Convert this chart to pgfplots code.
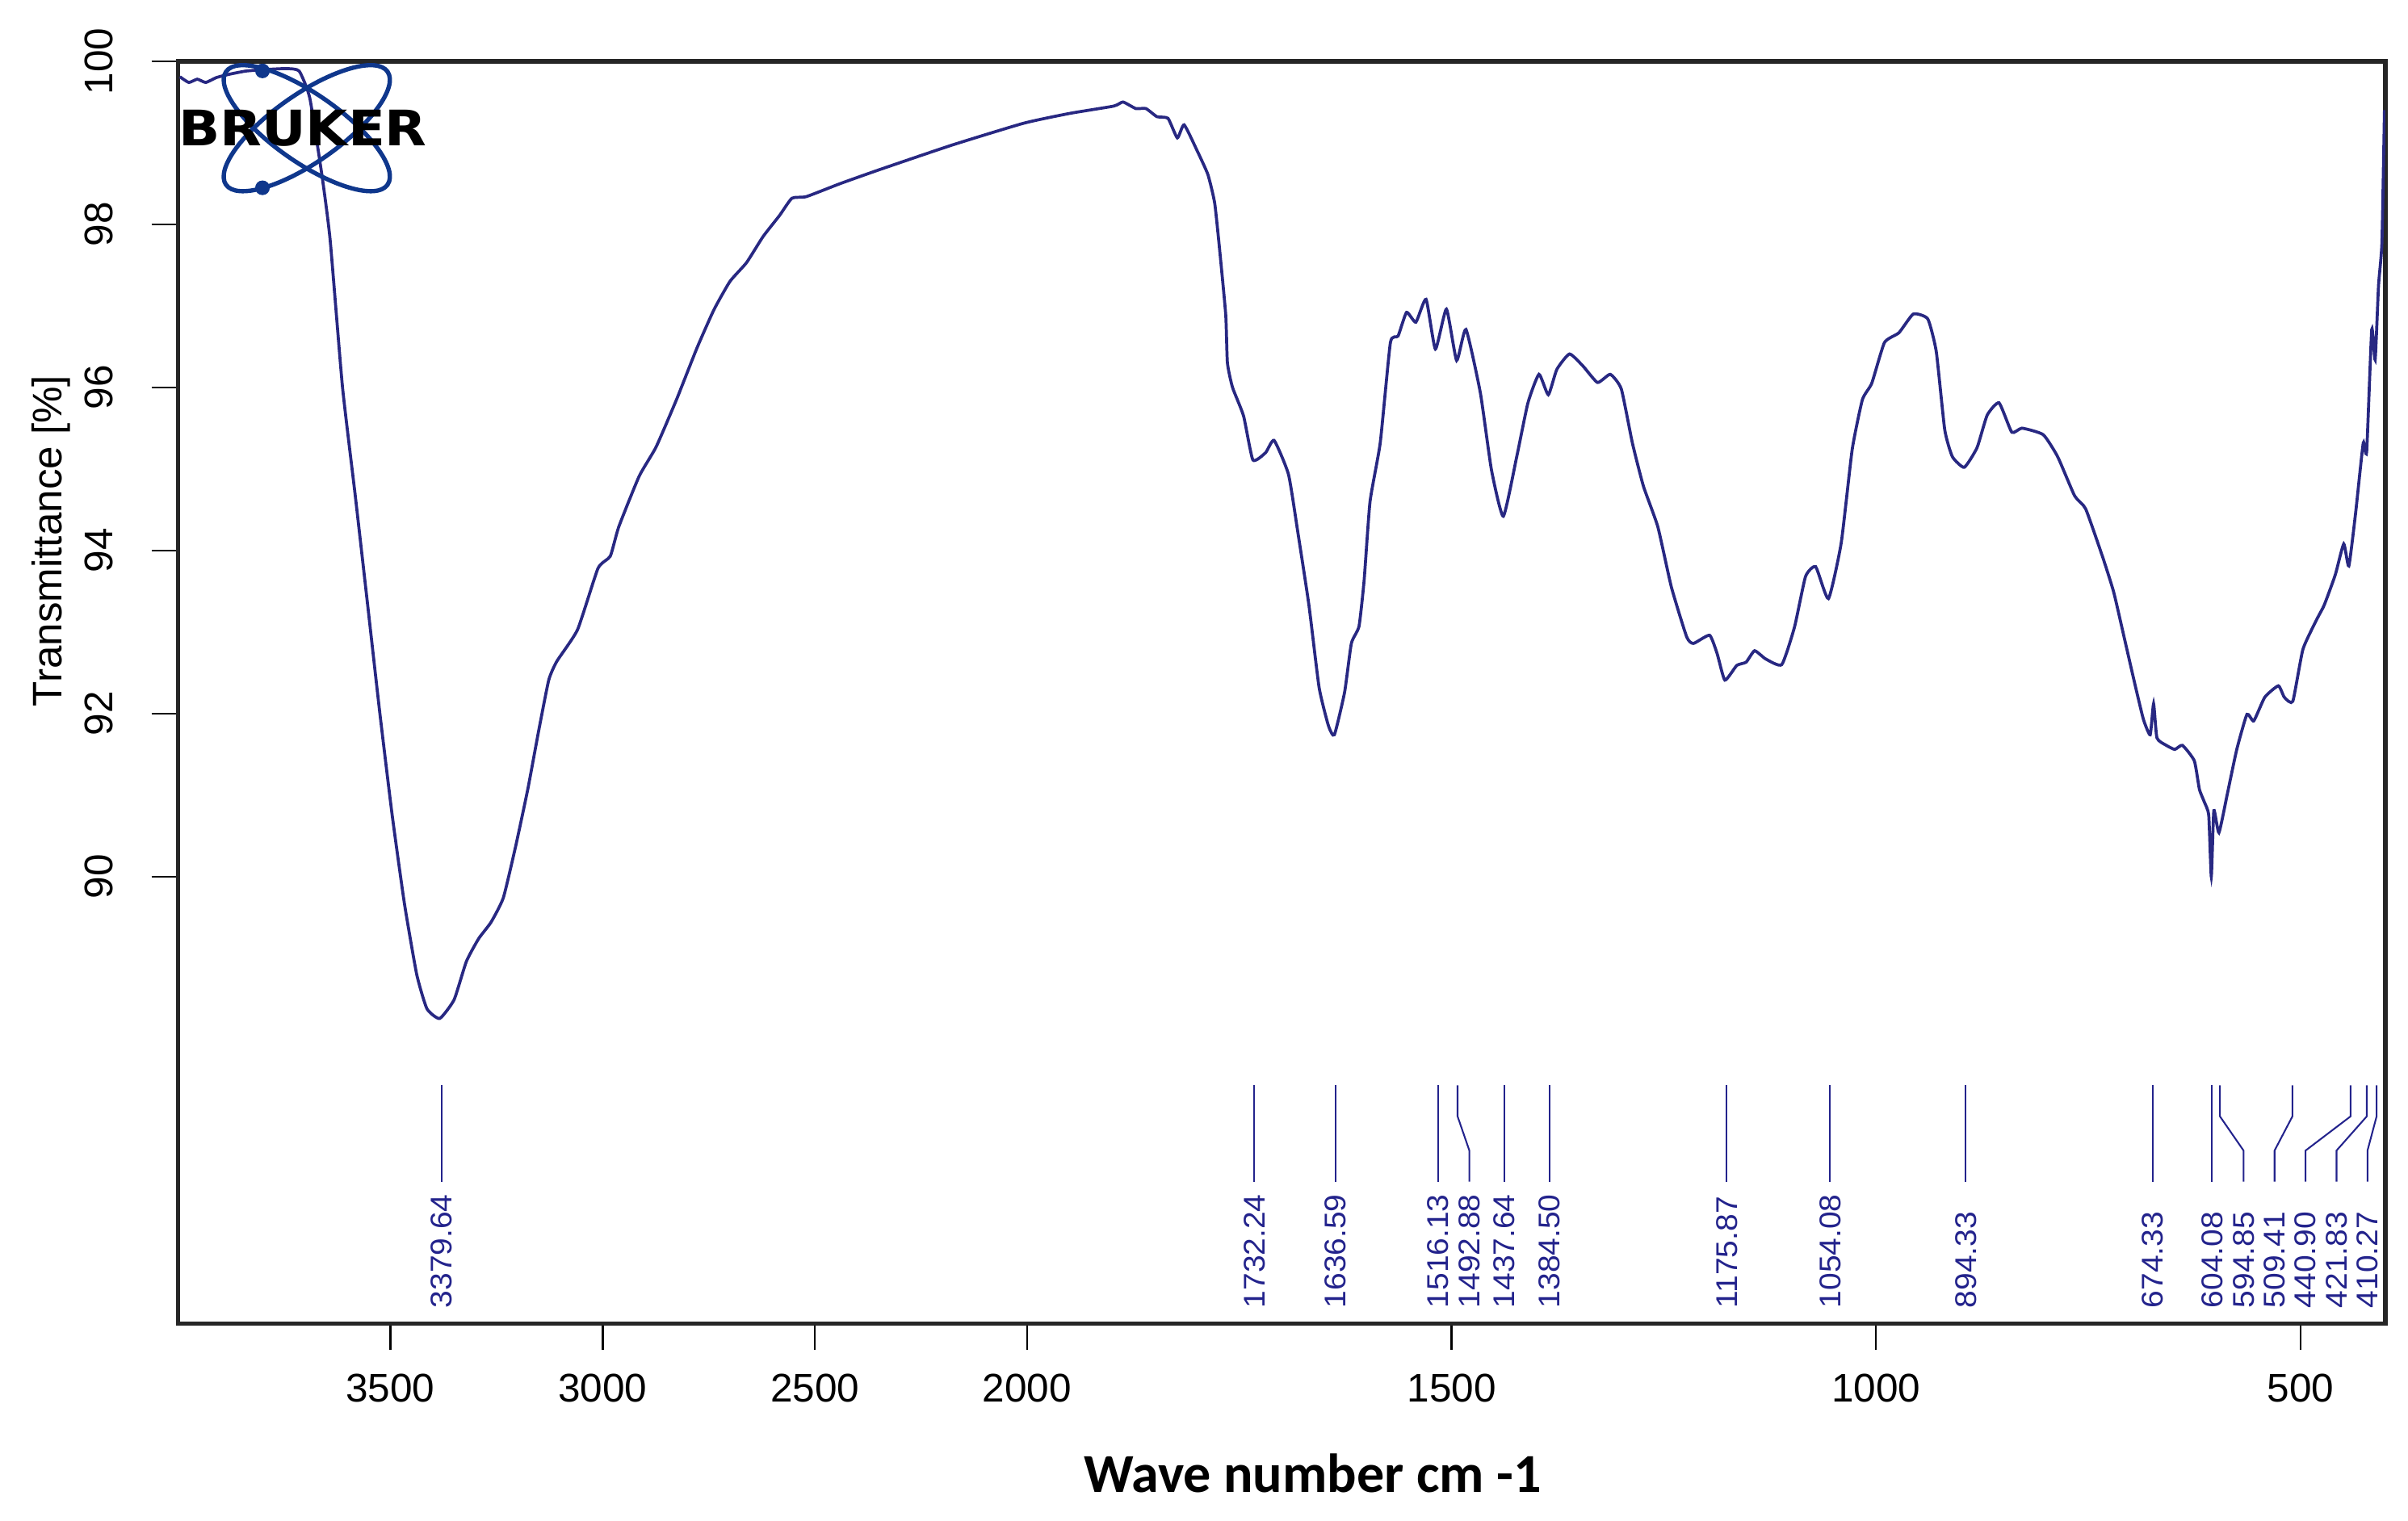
\documentclass[border=0pt]{standalone}
\usepackage{fontspec}
\setmainfont{Liberation Sans}
\newfontfamily\calibri{Carlito}
\newfontfamily\logofont{DejaVu Sans}
\usepackage{pgfplots}
\pgfplotsset{compat=1.18}

\definecolor{spec}{RGB}{40,40,130}
\definecolor{peak}{RGB}{35,35,140}
\definecolor{logoblue}{RGB}{15,55,140}

% IR spectrum, wavenumber (cm-1) vs transmittance (%)
\pgfplotstableread{
wn   T
3996 99.81
3975 99.74
3955 99.78
3935 99.74
3910 99.80
3880 99.84
3840 99.88
3790 99.90
3745 99.91
3715 99.88
3690 99.55
3661 98.59
3642 97.81
3613 96.01
3583 94.68
3554 93.35
3525 92.01
3496 90.76
3467 89.67
3438 88.80
3414 88.38
3384 88.26
3350 88.49
3321 88.96
3292 89.24
3263 89.44
3234 89.74
3205 90.37
3176 91.08
3151 91.78
3127 92.41
3108 92.64
3059 93.03
3011 93.78
2982 93.93
2962 94.29
2914 94.91
2874 95.27
2826 95.85
2778 96.48
2738 96.95
2700 97.30
2661 97.53
2622 97.85
2583 98.11
2554 98.32
2520 98.34
2440 98.50
2348 98.67
2178 98.97
2008 99.24
1950 99.36
1898 99.45
1887 99.50
1872 99.42
1860 99.42
1847 99.32
1834 99.30
1823 99.06
1815 99.22
1800 98.91
1787 98.61
1779 98.26
1773 97.67
1766 96.89
1764 96.30
1758 96.00
1745 95.65
1734 95.11
1719 95.20
1709 95.35
1692 94.93
1681 94.22
1668 93.33
1656 92.32
1645 91.85
1638 91.74
1626 92.26
1618 92.86
1609 93.07
1603 93.63
1596 94.60
1584 95.32
1572 96.55
1563 96.63
1553 96.92
1542 96.80
1530 97.08
1519 96.47
1506 96.96
1494 96.33
1483 96.71
1466 95.93
1453 94.99
1439 94.42
1423 95.16
1410 95.81
1397 96.16
1386 95.91
1376 96.22
1361 96.41
1345 96.26
1328 96.06
1313 96.16
1300 95.98
1287 95.32
1274 94.79
1257 94.29
1241 93.55
1223 92.94
1215 92.86
1196 92.96
1187 92.73
1178 92.41
1164 92.59
1153 92.63
1143 92.77
1130 92.67
1111 92.60
1096 93.06
1083 93.68
1071 93.80
1056 93.41
1041 94.09
1028 95.24
1016 95.85
1005 96.05
990 96.55
973 96.67
956 96.90
939 96.84
929 96.44
919 95.48
910 95.15
896 95.02
881 95.26
869 95.66
855 95.81
840 95.45
828 95.50
803 95.42
786 95.15
766 94.67
753 94.51
733 93.92
720 93.49
708 92.95
695 92.36
685 91.93
677 91.74
673 92.12
669 91.70
658 91.61
648 91.56
639 91.61
625 91.42
619 91.07
613 90.91
608 90.75
605 90.00
602 90.81
596 90.54
586 91.02
575 91.56
563 91.99
555 91.91
542 92.20
526 92.34
519 92.20
509 92.15
497 92.79
480 93.17
472 93.33
459 93.70
449 94.08
443 93.81
435 94.46
426 95.32
422 95.21
416 96.71
412 96.34
408 97.25
404 97.78
401 99.40
}\spectrum

% peak labels: position of the text, and the peak value
\pgfplotstableread{
x       y     lab
3379.64 84.70 3379.64
1732.24 84.70 1732.24
1636.59 84.70 1636.59
1516.13 84.70 1516.13
1479    84.70 1492.88
1437.64 84.70 1437.64
1384.50 84.70 1384.50
1175.87 84.70 1175.87
1054.08 84.70 1054.08
894.33  84.70 894.33
674.33  84.70 674.33
604.08  84.70 604.08
567     84.70 594.85
530.5   84.70 509.41
494     84.70 440.90
457.5   84.70 421.83
421     84.70 410.27
}\peaks

\begin{document}
\begin{tikzpicture}
\path[use as bounding box] (-53.5pt,-59.3pt) rectangle (669.4pt,397.4pt);
\begin{axis}[
  at={(0,0)}, anchor=south west,
  scale only axis, width=662.6pt, height=379pt,
  x coord trafo/.code={\pgfmathparse{#1>2000 ? 2000+(#1-2000)/2 : #1}},
  x dir=reverse,
  xmin=400, xmax=4000, ymin=84.52, ymax=100,
  xtick={500,1000,1500,2000,2500,3000,3500},
  xticklabels={500,1000,1500,2000,2500,3000,3500},
  ytick={90,92,94,96,98,100},
  yticklabels={90,92,94,96,98,100},
  tick align=outside, xtick pos=bottom, ytick pos=left,
  major tick length=8pt,
  tick style={line width=0.6pt, black},
  axis line style={line width=1.3pt, black!85},
  ticklabel style={font=\fontsize{12}{12}\selectfont},
  yticklabel style={rotate=90, anchor=south},
  xticklabel shift=3.7pt, yticklabel shift=8pt,
  xlabel={Wave number cm -1},
  ylabel={Transmittance [\%]},
  xlabel style={font=\calibri\bfseries\fontsize{16.5}{16.5}\selectfont,
    at={(axis description cs:0.514,-0.119)}, anchor=center},
  ylabel style={font=\fontsize{12.4}{12.4}\selectfont,
    at={(axis description cs:-0.0577,0.62)}, anchor=center},
]
\coordinate (tl) at (rel axis cs:0,1);

\addplot[spec, line width=0.9pt, smooth, tension=0.3] table[x=wn, y=T] {\spectrum};

% peak pick lines
\addplot[peak, line width=0.5pt] coordinates {(3379.64,87.44) (3379.64,86.26)};
\addplot[peak, line width=0.5pt] coordinates {(1732.24,87.44) (1732.24,86.26)};
\addplot[peak, line width=0.5pt] coordinates {(1636.59,87.44) (1636.59,86.26)};
\addplot[peak, line width=0.5pt] coordinates {(1516.13,87.44) (1516.13,86.26)};
\addplot[peak, line width=0.5pt] coordinates {(1492.88,87.44) (1492.88,87.06) (1479,86.64) (1479,86.26)};
\addplot[peak, line width=0.5pt] coordinates {(1437.64,87.44) (1437.64,86.26)};
\addplot[peak, line width=0.5pt] coordinates {(1384.50,87.44) (1384.50,86.26)};
\addplot[peak, line width=0.5pt] coordinates {(1175.87,87.44) (1175.87,86.26)};
\addplot[peak, line width=0.5pt] coordinates {(1054.08,87.44) (1054.08,86.26)};
\addplot[peak, line width=0.5pt] coordinates {(894.33,87.44) (894.33,86.26)};
\addplot[peak, line width=0.5pt] coordinates {(674.33,87.44) (674.33,86.26)};
\addplot[peak, line width=0.5pt] coordinates {(604.08,87.44) (604.08,86.26)};
\addplot[peak, line width=0.5pt] coordinates {(594.85,87.44) (594.85,87.06) (567,86.64) (567,86.26)};
\addplot[peak, line width=0.5pt] coordinates {(509.41,87.44) (509.41,87.06) (530.5,86.64) (530.5,86.26)};
\addplot[peak, line width=0.5pt] coordinates {(440.90,87.44) (440.90,87.06) (494,86.64) (494,86.26)};
\addplot[peak, line width=0.5pt] coordinates {(421.83,87.44) (421.83,87.06) (457.5,86.64) (457.5,86.26)};
\addplot[peak, line width=0.5pt] coordinates {(410.27,87.44) (410.27,87.06) (421,86.64) (421,86.26)};

\addplot[draw=none, mark=none, point meta=explicit symbolic,
  nodes near coords={\scalebox{1.05}[1]{\pgfplotspointmeta}},
  every node near coord/.append style={rotate=90, anchor=west, inner sep=0pt,
    text=peak, font=\fontsize{9}{9}\selectfont}]
  table[x=x, y=y, meta=lab] {\peaks};
\end{axis}

% BRUKER logo in the top left corner
\begin{scope}[shift={(tl)}, xshift=38.6pt, yshift=-20.1pt]
  \draw[logoblue, line width=1.3pt, rotate=-35] (0,0) ellipse (29.6pt and 10.2pt);
  \draw[logoblue, line width=1.3pt, rotate=35] (0,0) ellipse (29.6pt and 10.2pt);
  \fill[logoblue] (-13.3pt,17.2pt) circle (2.2pt);
  \fill[logoblue] (-13.3pt,-17.9pt) circle (2.2pt);
  \node[font=\logofont\bfseries\fontsize{14.7}{14.7}\selectfont, inner sep=0pt]
    at (-1.2pt,0) {\scalebox{1.11}[1]{BRUKER}};
\end{scope}
\end{tikzpicture}
\end{document}
